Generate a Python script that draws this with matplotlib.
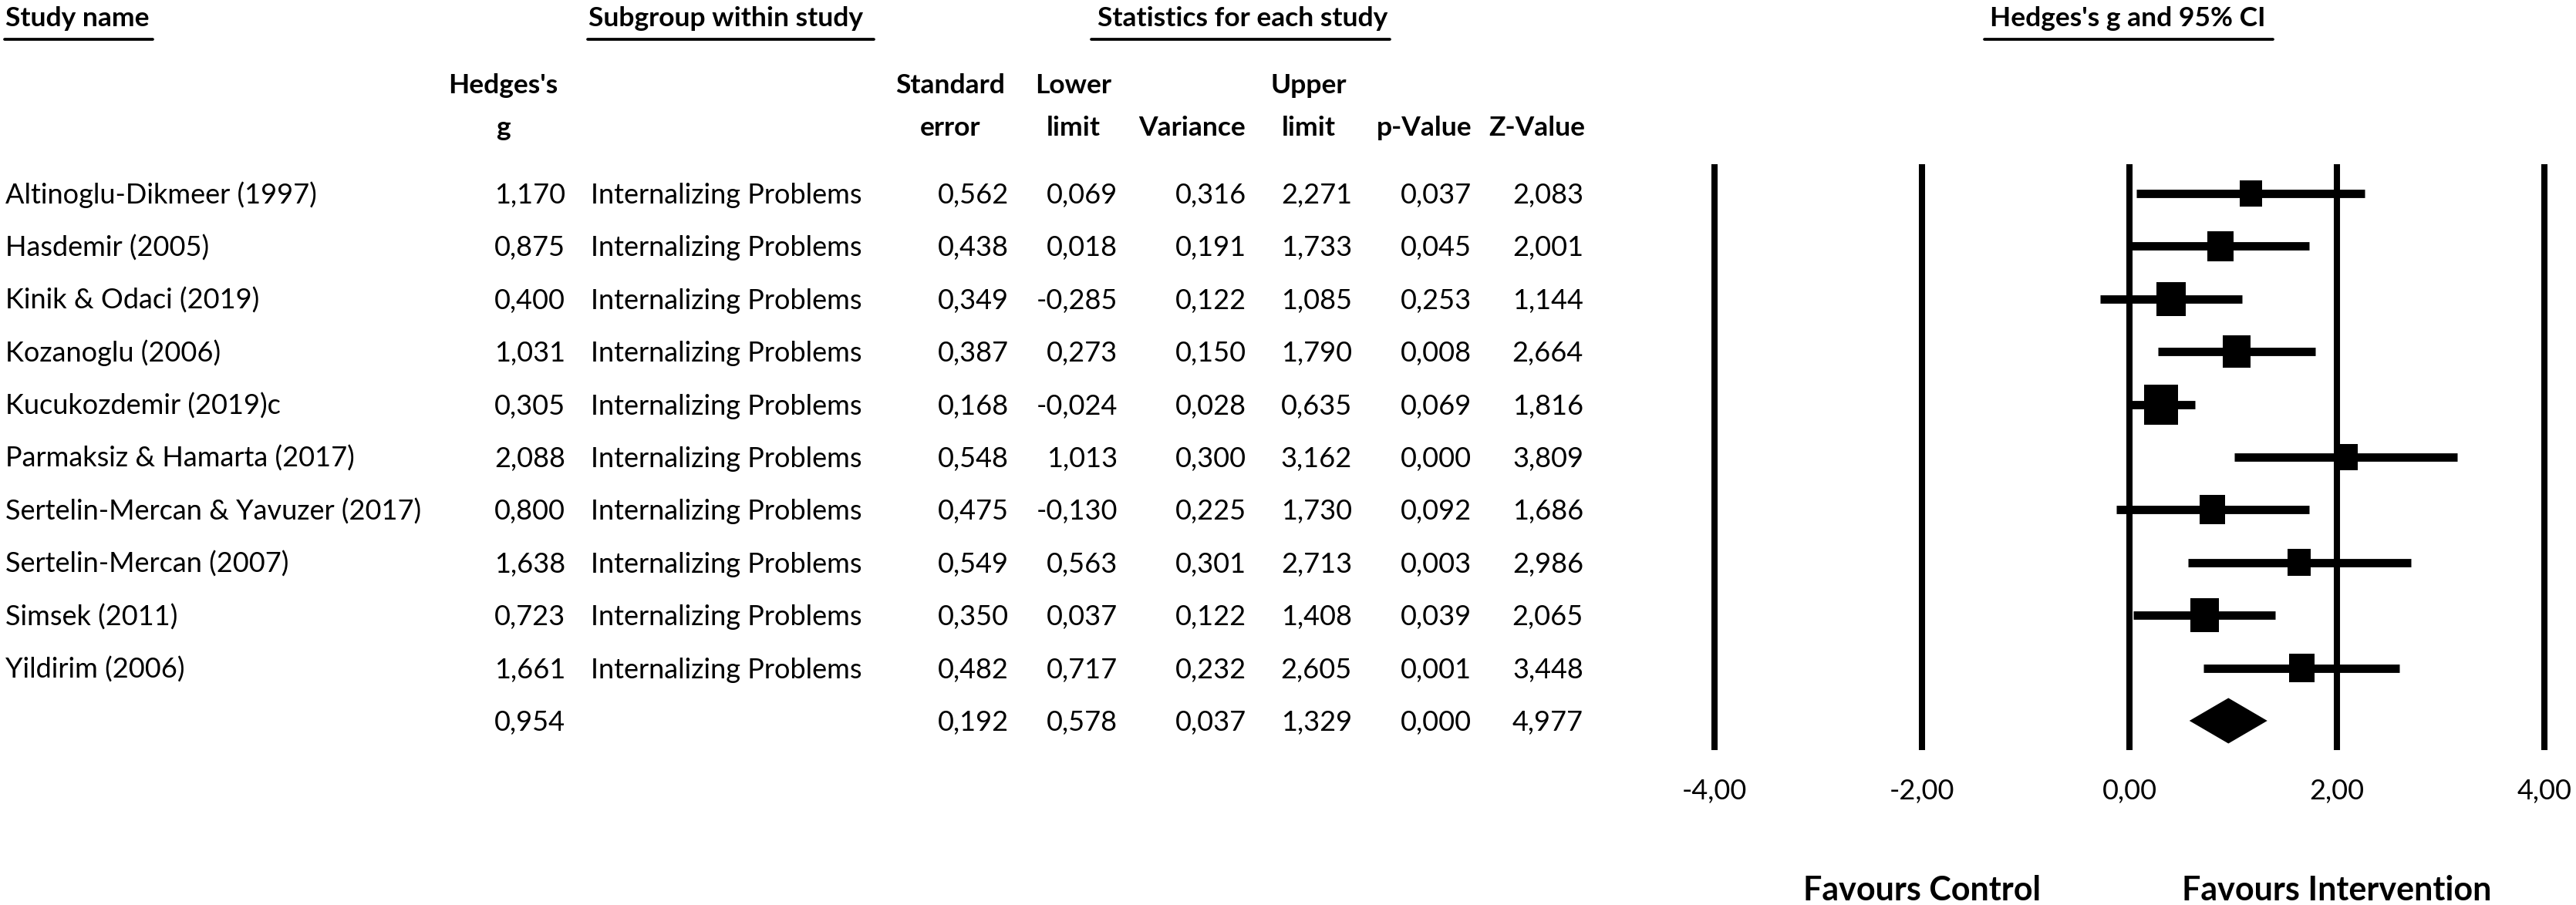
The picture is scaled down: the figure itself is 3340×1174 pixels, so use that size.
import matplotlib
matplotlib.use('Agg')
import numpy as np
import matplotlib.pyplot as plt
from matplotlib import transforms
from matplotlib.path import Path

plt.rcParams['font.family'] = ['Lato', 'DejaVu Sans']

studies = ['Altinoglu-Dikmeer (1997)', 'Hasdemir (2005)', 'Kinik & Odaci (2019)',
           'Kozanoglu (2006)', 'Kucukozdemir (2019)c', 'Parmaksiz & Hamarta (2017)',
           'Sertelin-Mercan & Yavuzer (2017)', 'Sertelin-Mercan (2007)',
           'Simsek (2011)', 'Yildirim (2006)']
subgroup = 'Internalizing Problems'
g = [1.170, 0.875, 0.400, 1.031, 0.305, 2.088, 0.800, 1.638, 0.723, 1.661]
se = [0.562, 0.438, 0.349, 0.387, 0.168, 0.548, 0.475, 0.549, 0.350, 0.482]
lower = [0.069, 0.018, -0.285, 0.273, -0.024, 1.013, -0.130, 0.563, 0.037, 0.717]
variance = [0.316, 0.191, 0.122, 0.150, 0.028, 0.300, 0.225, 0.301, 0.122, 0.232]
upper = [2.271, 1.733, 1.085, 1.790, 0.635, 3.162, 1.730, 2.713, 1.408, 2.605]
pval = [0.037, 0.045, 0.253, 0.008, 0.069, 0.000, 0.092, 0.003, 0.039, 0.001]
zval = [2.083, 2.001, 1.144, 2.664, 1.816, 3.809, 1.686, 2.986, 2.065, 3.448]

# overall (random effects) row
sum_g, sum_se, sum_lower, sum_var, sum_upper, sum_p, sum_z = 0.954, 0.192, 0.578, 0.037, 1.329, 0.000, 4.977
tau2 = 0.195

ticks = [-4, -2, 0, 2, 4]
tick_labels = ['-4,00', '-2,00', '0,00', '2,00', '4,00']


def fmt(v):
    return f'{v:.3f}'.replace('.', ',')


W, H = 3340, 1174
fig = plt.figure(figsize=(W / 100, H / 100), dpi=100)

# table layer in pixel units
tab = fig.add_axes([0, 0, 1, 1])
tab.set_xlim(0, W)
tab.set_ylim(H, 0)
tab.axis('off')

row0, dy = 251, 68.4
n = len(studies)
rows_y = [row0 + i * dy for i in range(n + 1)]

# forest plot axes
x_zero, px_unit = 2761, 134.5
xpad = 4.2
left_px = x_zero - xpad * px_unit
top_px = row0 - 0.5 * dy
bot_px = row0 + (n + 0.5) * dy
ax = fig.add_axes([left_px / W, 1 - bot_px / H, 2 * xpad * px_unit / W, (bot_px - top_px) / H])
ax.set_xlim(-xpad, xpad)
ax.set_ylim(n + 0.5, -0.5)
ax.axis('off')

body = 26
bold = 25.5

# headers
hdr = dict(fontsize=bold, fontweight='bold', va='baseline')
tab.text(7, 34, 'Study name', ha='left', **hdr)
tab.text(763, 34, 'Subgroup within study', ha='left', **hdr)
tab.text(1611, 34, 'Statistics for each study', ha='center', **hdr)
tab.text(2759, 34, "Hedges's g and 95% CI", ha='center', **hdr)
for x0, x1 in [(6, 198), (762, 1133), (1415, 1802), (2573, 2947)]:
    tab.plot([x0, x1], [51, 51], color='black', lw=2.7, solid_capstyle='round')

sub = dict(fontsize=bold, fontweight='bold', va='baseline', ha='center')
tab.text(652, 121, "Hedges's", **sub)
tab.text(652, 176, 'g', **sub)
tab.text(1232, 121, 'Standard', **sub)
tab.text(1232, 176, 'error', **sub)
tab.text(1392, 121, 'Lower', **sub)
tab.text(1392, 176, 'limit', **sub)
tab.text(1546, 176, 'Variance', **sub)
tab.text(1697, 121, 'Upper', **sub)
tab.text(1697, 176, 'limit', **sub)
tab.text(1847, 176, 'p-Value', **sub)
tab.text(1993, 176, 'Z-Value', **sub)

cols = [(733, g + [sum_g]), (1308, se + [sum_se]), (1449, lower + [sum_lower]),
        (1616, variance + [sum_var]), (1753, upper + [sum_upper]),
        (1908, pval + [sum_p]), (2053, zval + [sum_z])]
for i in range(n + 1):
    yb = rows_y[i] + 13
    if i < n:
        tab.text(7, yb, studies[i], fontsize=body, ha='left', va='baseline')
        tab.text(766, yb, subgroup, fontsize=body, ha='left', va='baseline')
    for xr, vals in cols:
        tab.text(xr, yb, fmt(vals[i]), fontsize=body, ha='right', va='baseline')

# forest marks
for t in ticks:
    ax.axvline(t, color='black', lw=5.8, clip_on=False)

ypos = np.arange(n)
ax.hlines(ypos, lower, upper, color='black', lw=7.8, capstyle='butt')

weights = 1 / (np.array(variance) + tau2)
box_h = 24.5 * np.sqrt(weights)
rect = Path([(-0.43, -0.5), (0.43, -0.5), (0.43, 0.5), (-0.43, 0.5), (-0.43, -0.5)])
ax.scatter(g, ypos, marker=rect, s=(box_h * 0.72) ** 2, color='black', zorder=3, linewidths=0)

half = 29.5 / dy
ax.fill([sum_lower, sum_g, sum_upper, sum_g], [n, n - half, n, n + half], color='black', lw=0)

# axis labels under the plot
blend = transforms.blended_transform_factory(ax.transData, tab.transData)
for t, lab in zip(ticks, tick_labels):
    tab.text(t, 1037, lab, transform=blend, fontsize=body, ha='center', va='baseline')
tab.text(-2, 1168, 'Favours Control', transform=blend, fontsize=31, fontweight='bold',
         ha='center', va='baseline')
tab.text(2, 1168, 'Favours Intervention', transform=blend, fontsize=31, fontweight='bold',
         ha='center', va='baseline')

fig.savefig('out.png', dpi=100)
